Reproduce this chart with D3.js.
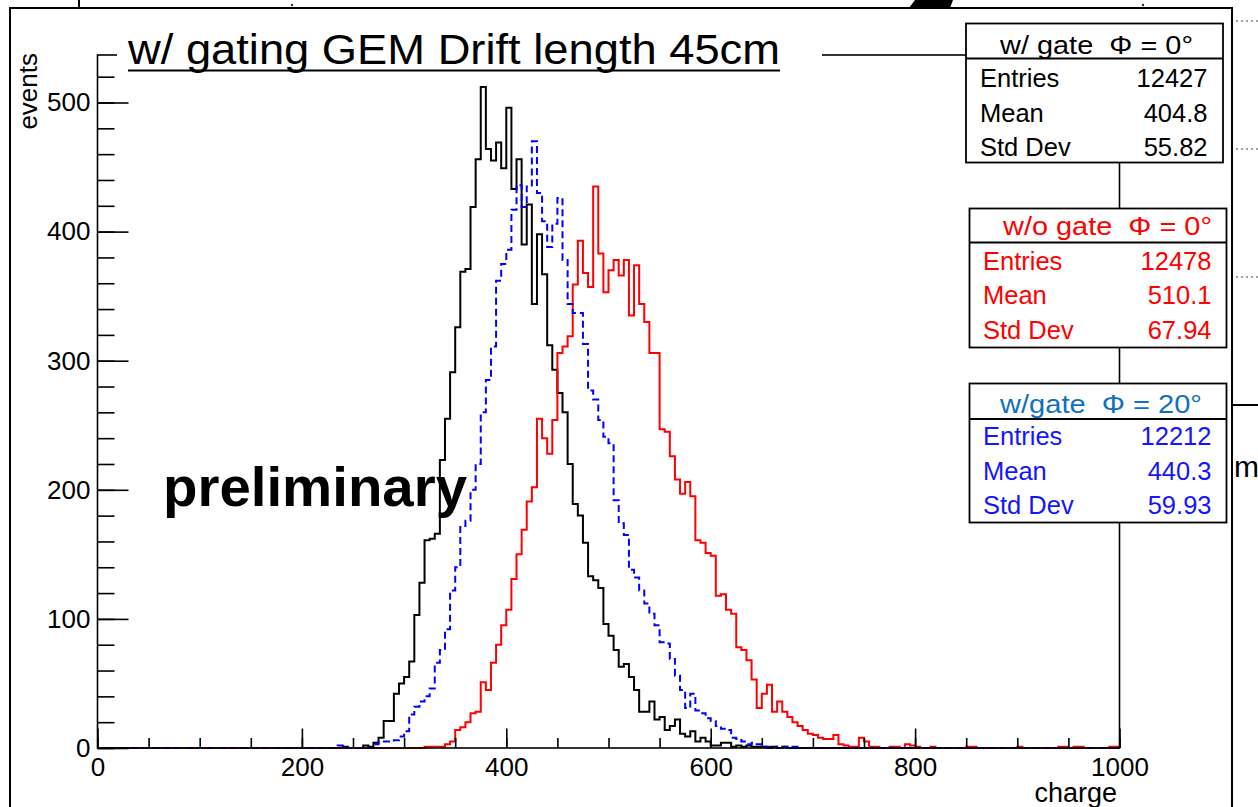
<!DOCTYPE html>
<html><head><meta charset="utf-8">
<script src="https://cdn.jsdelivr.net/npm/d3@7/dist/d3.min.js"></script>
<style>
body{margin:0;background:#fff;}
svg{display:block;}
text{font-family:"Liberation Sans",Arial,Helvetica,sans-serif;}
</style>
</head><body>
<svg id="c" width="1258" height="807"></svg>
<script>
// ---------------- data ----------------
const binWidth = 5;
const xTickLabels = ["0","200","400","600","800","1000"];
const yTickLabels = ["0","100","200","300","400","500"];

// w/ gate, phi = 0 (black) : counts per 5-unit bin starting at charge 240
const gate0Start = 240;
const gate0Counts = [1,0,0,0,2,1,4,8,21,21,42,50,55,67,103,128,161,162,166,223,255,291,
  326,369,371,419,456,512,464,455,469,449,496,433,456,390,421,344,398,367,312,293,
  275,260,220,189,180,159,133,130,124,96,87,76,63,65,55,45,28,28,36,22,
  24,14,17,22,11,9,13,5,8,5,2,2,4,4,1,2,1,2,1,1,1,0,1,0,1];

// w/o gate, phi = 0 (red) : starting at charge 320
const nogate0Start = 320;
const nogate0Counts = [1,1,1,1,3,5,14,16,20,27,28,51,45,66,80,95,
  107,131,150,169,191,202,255,240,228,254,
  306,311,319,359,393,368,357,435,383,353,
  370,378,366,378,335,374,344,330,306,306,
  247,245,226,208,197,206,195,161,159,151,
  149,118,119,107,104,78,76,68,53,31,
  42,49,28,36,28,24,20,17,14,11,
  10,8,7,7,10,3,2,1,1,8,5,1,1,0,0,1,1,0,3,2,1,0,0,1,0,0,0,0,0,0,1,1,0,0,0,0,0,0,0,0,1,0,0,0,0,0,0,0,1,1,0,1,1,0,0,0,0,0,1,1];

// w/ gate, phi = 20 (blue dashed) : starting at charge 235
const gate20Start = 235;
const gate20Counts = [2,0,0,0,0,0,0,3,5,5,5,6,9,13,
  26,32,36,40,46,66,76,92,122,
  140,172,176,200,220,260,285,311,362,375,
  386,417,436,419,435,470,430,408,388,406,
  426,378,344,337,337,313,277,270,254,241,
  236,192,174,165,138,132,122,112,104,95,
  82,81,69,56,45,31,42,29,27,23,
  21,17,15,14,8,7,5,3,4,3,1,1,1,0,1,0,1];

const statsTitles = ["w/ gate\u00A0\u00A0\u03A6 = 0\u00B0", "w/o gate\u00A0\u00A0\u03A6 = 0\u00B0", "w/gate\u00A0\u00A0\u03A6 = 20\u00B0"];
const statsLabels = ["Entries", "Mean", "Std Dev"];
const statsEntries = ["12427", "12478", "12212"];
const statsMeans = ["404.8", "510.1", "440.3"];
const statsStdDevs = ["55.82", "67.94", "59.93"];

// ---------------- drawing ----------------
const svg = d3.select("#c");
svg.append("rect").attr("width",1258).attr("height",807).attr("fill","#fff");

const x = d3.scaleLinear().domain([0,1000]).range([97.5,1119.5]);
const y = d3.scaleLinear().domain([0,536.8]).range([748,55]);

// page decorations (outer canvas border etc.)
const deco = svg.append("g").attr("fill","none").attr("stroke","#000");
deco.append("path").attr("d","M10,807 V8 H1232 V807").attr("stroke-width",2);
deco.append("line").attr("x1",79).attr("x2",79).attr("y1",0).attr("y2",8).attr("stroke-width",2);
svg.append("path").attr("d","M915,0 L953,0 L950,8 L909,8 Z").attr("fill","#000");
svg.append("circle").attr("cx",292).attr("cy",5).attr("r",1.2).attr("fill","#333");
svg.append("circle").attr("cx",1143).attr("cy",5).attr("r",1.2).attr("fill","#333");
[21,149,277].forEach(yy=>{
  deco.append("line").attr("x1",1236).attr("x2",1258).attr("y1",yy).attr("y2",yy)
    .attr("stroke","#444").attr("stroke-width",1.2).attr("stroke-dasharray","2,3");
});
deco.append("line").attr("x1",1232).attr("x2",1258).attr("y1",405).attr("y2",405).attr("stroke-width",2);
svg.append("text").attr("x",1234).attr("y",477).attr("font-size",30).attr("fill","#000").text("m");

// build histogram arrays
function fullBins(start, counts){
  const n = 1000/binWidth;
  const arr = d3.range(n).map(i=>({lo:i*binWidth, v:0}));
  counts.forEach((c,k)=>{ const idx = (start/binWidth)+k; if(idx<n) arr[idx].v = c; });
  return arr;
}
const series = [
  {bins: fullBins(gate0Start, gate0Counts), color:"#000", dash:null},
  {bins: fullBins(nogate0Start, nogate0Counts), color:"#ff0000", dash:null},
  {bins: fullBins(gate20Start, gate20Counts), color:"#0000ff", dash:"7,4"}
];

svg.append("defs").append("clipPath").attr("id","clipF")
  .append("rect").attr("x",97.5).attr("y",55).attr("width",1022).attr("height",694);

const line = d3.line().x(d=>x(d[0])).y(d=>y(d[1])).curve(d3.curveStepAfter);
const hg = svg.append("g").attr("clip-path","url(#clipF)");
series.forEach(s=>{
  const pts = [[0,0]].concat(s.bins.map(b=>[b.lo,b.v])).concat([[1000,0]]);
  hg.append("path").attr("d",line(pts)).attr("fill","none")
    .attr("stroke",s.color).attr("stroke-width",2)
    .attr("stroke-dasharray",s.dash);
});

// frame
svg.append("rect").attr("x",97.5).attr("y",55).attr("width",1022).attr("height",693)
  .attr("fill","none").attr("stroke","#000").attr("stroke-width",1.6);

// axes
const yMinor = svg.append("g").attr("transform","translate(97.5,0)")
  .call(d3.axisLeft(y).tickValues(d3.range(0,540,20)).tickSize(-17).tickFormat(""));
const yMajor = svg.append("g").attr("transform","translate(97.5,0)")
  .call(d3.axisLeft(y).tickValues(yTickLabels.map(Number)).tickSize(-31).tickPadding(7)
    .tickFormat((d,i)=>yTickLabels[i]));
const xMinor = svg.append("g").attr("transform","translate(0,748)")
  .call(d3.axisBottom(x).tickValues(d3.range(0,1001,50)).tickSize(-10).tickFormat(""));
const xMajor = svg.append("g").attr("transform","translate(0,748)")
  .call(d3.axisBottom(x).tickValues(xTickLabels.map(Number)).tickSize(-19.5).tickPadding(10)
    .tickFormat((d,i)=>xTickLabels[i]));
[yMinor,yMajor,xMinor,xMajor].forEach(g=>{
  g.select(".domain").remove();
  g.selectAll("line").attr("stroke","#000").attr("stroke-width",1.6);
  g.selectAll("text").attr("font-size",26).attr("fill","#000")
    .attr("font-family",'"Liberation Sans",Arial,sans-serif');
});

// axis titles
svg.append("text").attr("transform","translate(37,53) rotate(-90)")
  .attr("text-anchor","end").attr("font-size",26).attr("fill","#000").text("events");
svg.append("text").attr("x",1117).attr("y",802).attr("text-anchor","end")
  .attr("font-size",27).attr("fill","#000").text("charge");

// title box
svg.append("rect").attr("x",117).attr("y",28).attr("width",705).attr("height",44).attr("fill","#fff");
svg.append("text").attr("x",128).attr("y",64).attr("font-size",43).attr("fill","#000")
  .attr("textLength",652).attr("lengthAdjust","spacingAndGlyphs")
  .text("w/ gating GEM Drift length 45cm");
svg.append("line").attr("x1",128).attr("x2",780).attr("y1",70.5).attr("y2",70.5)
  .attr("stroke","#000").attr("stroke-width",2);

// preliminary
svg.append("text").attr("x",163).attr("y",506).attr("font-size",55).attr("font-weight","bold")
  .attr("fill","#000").attr("textLength",304).attr("lengthAdjust","spacingAndGlyphs").text("preliminary");

// stats boxes
const boxes = [
  {x:966, y:23.5, w:257, h:139, sep:58.5, tx:1000, tw:193, tb:53.5, rows:[87,121.5,156], lx:980, vx:1207.5, tc:"#000", rc:"#000"},
  {x:969.5, y:208.5, w:257, h:139, sep:242.5, tx:1003, tw:209, tb:235, rows:[270,304,338.5], lx:983, vx:1211.5, tc:"#ff0000", rc:"#ff0000"},
  {x:969.5, y:383.5, w:257, h:139, sep:419, tx:1000, tw:202, tb:412.5, rows:[445,479.5,513.5], lx:983, vx:1211.5, tc:"#1170c0", rc:"#1515ff"}
];
const values = [statsEntries, statsMeans, statsStdDevs];
boxes.forEach((b,i)=>{
  const g = svg.append("g");
  g.append("rect").attr("x",b.x).attr("y",b.y).attr("width",b.w).attr("height",b.h)
    .attr("fill","#fff").attr("stroke","#000").attr("stroke-width",1.8);
  g.append("line").attr("x1",b.x).attr("x2",b.x+b.w).attr("y1",b.sep).attr("y2",b.sep)
    .attr("stroke","#000").attr("stroke-width",1.8);
  g.append("text").attr("x",b.tx).attr("y",b.tb).attr("font-size",26).attr("fill",b.tc)
    .attr("textLength",b.tw).attr("lengthAdjust","spacingAndGlyphs").text(statsTitles[i]);
  statsLabels.forEach((lab,r)=>{
    g.append("text").attr("x",b.lx).attr("y",b.rows[r]).attr("font-size",25.5).attr("fill",b.rc).text(lab);
    g.append("text").attr("x",b.vx).attr("y",b.rows[r]).attr("font-size",25.5).attr("fill",b.rc)
      .attr("text-anchor","end").text(values[r][i]);
  });
});
</script>
</body></html>
